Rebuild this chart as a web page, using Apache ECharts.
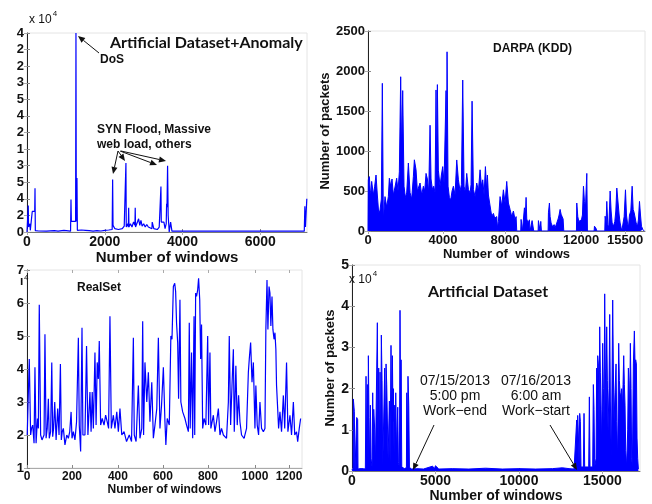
<!DOCTYPE html>
<html><head><meta charset="utf-8">
<script src="https://cdn.jsdelivr.net/npm/echarts@6/dist/echarts.min.js"></script>
<style>html,body{margin:0;padding:0;background:#fff}#c{width:652px;height:504px}</style>
</head><body><div id="c"></div>
<script>
// ---------- Panel 1: Artificial Dataset + Anomaly (y in tick units) ----------
const anomWin = [0,8,28,33,40,70,77,85,130,135,198,206,214,300,500,700,800,950,1000,1120,1131,1140,1250,1259,1268,1277,1285,1295,1400,1500,1600,1700,1800,1900,2000,2100,2190,2202,2212,2260,2300,2350,2400,2450,2500,2535,2544,2552,2590,2606,2614,2622,2660,2700,2740,2775,2783,2791,2840,2870,2900,2930,2960,3000,3040,3080,3120,3160,3212,3220,3260,3300,3350,3400,3435,3444,3453,3521,3550,3580,3590,3600,3615,3630,3645,3657,3693,3727,4000,5000,6000,7000,7130,7145,7160,7185,7195];
const anomVal = [0,0.05,0.1,1.6,0.3,0.3,0.5,0.1,0.1,1.24,1.24,2.64,0.08,0.06,0.05,0.08,0.05,0.1,0.05,0.05,1.96,0.64,0.64,12,0.64,0.64,3.26,0.1,0.12,0.1,0.08,0.05,0.08,0.06,0.1,0.12,0.15,3.16,0.4,0.2,0.3,0.15,0.25,0.2,0.35,0.3,4.16,0.3,0.5,0.3,1.46,0.3,0.5,0.3,0.6,0.4,1.46,0.3,0.6,0.8,0.4,0.7,0.35,0.5,0.3,0.45,0.3,0.2,0.2,0.6,0.2,0.3,0.15,0.3,0.3,2.74,0.6,0.6,0.2,0.5,1.7,1.5,4.0,1.0,1.0,0.0,0.6,0.05,0.05,0.05,0.06,0.05,0.05,1.55,0.3,0.3,2.0];
const anomYLabels = ["0","2","4","5","3","1","2","4","5","3","2","2","4"];
const anomXTicks = [0,2000,4000,6000];
const anomXLabels = ["0","2000","4000","6000"];

// ---------- Panel 2: DARPA (KDD) ----------
const darpaWin = [0,21,82,164,225,328,410,492,573,655,737,819,880,942,1044,1147,1249,1310,1392,1474,1556,1658,1760,1842,1924,2006,2068,2129,2211,2293,2375,2477,2580,2682,2784,2846,2948,3030,3112,3194,3296,3398,3480,3562,3644,3726,3808,3869,3951,4033,4115,4176,4217,4258,4319,4422,4504,4586,4668,4729,4790,4821,4852,4913,4995,5077,5159,5241,5343,5446,5548,5650,5732,5814,5896,5978,6059,6162,6264,6325,6387,6469,6571,6673,6776,6878,6960,7042,7124,7206,7287,7328,7390,7451,7533,7594,7697,7779,7840,7902,7943,8004,
8105,8207,8310,8412,8514,8617,8719,8821,8924,9026,9088,9129,9374,9395,9456,9477,9579,9599,9661,9702,9743,9824,9906,9947,10050,10070,10152,10172,10439,10459,10520,10561,10602,10643,11053,11073,11135,11176,11237,11298,11339,11421,11483,11585,11667,11728,11790,11851,11912,11974,12015,12793,12813,12875,12936,13018,13100,13161,13223,13284,13346,13428,13468,13878,13898,14000,14041,14532,14553,14614,14655,14717,14778,14860,14921,14983,15065,15147,15208,15270,15352,15413,15474,15536,15577,15679,15720,15802,15863,15925,15986,16048,16129,16211,16273,16334,16395,16457,16539,16600,16662,16723,16784,16866,16948];
const darpaPackets = [0,640,680,420,620,450,560,700,450,230,260,400,1846,145,430,300,430,660,560,650,450,550,660,500,740,1928,937,1755,560,420,475,850,480,400,680,890,765,500,475,600,450,560,500,720,650,480,1322,650,520,560,480,1763,600,1830,760,560,700,805,600,620,1755,700,2240,560,420,390,500,560,450,888,640,500,580,1887,560,480,720,520,475,580,1623,520,430,600,500,765,560,640,450,805,500,700,450,475,260,185,220,160,145,180,40,120,
430,310,515,350,620,350,270,180,250,140,180,0,0,145,145,0,0,290,200,420,150,100,140,0,0,130,130,0,0,130,155,0,120,0,0,227,350,180,100,120,50,80,40,100,150,200,270,210,180,150,0,0,350,180,120,125,140,200,560,370,300,720,0,0,60,30,0,0,185,100,370,80,40,500,250,100,60,120,250,537,537,200,100,40,0,0,180,515,200,100,50,200,250,560,270,230,250,100,60,150,370,200,60,20,0];
const darpaXTicks = [0,4605,8412,13078,15780];
const darpaXLabels = ["0","4000","8000","12000","15500"];

// ---------- Panel 3: RealSet ----------
const realWin = [1,10,16,20,25,31,35,40,46,50,54,60,66,75,79,84,89,94,98,104,109,113,117,122,128,135,141,147,151,155,160,167,175,182,188,194,198,204,211,218,226,230,236,242,246,255,262,268,277,282,287,292,299,304,309,314,318,324,331,339,346,353,359,365,371,380,387,395,402,409,417,427,438,450,460,468,472,480,490,497,505,509,513,519,527,534,541,549,556,563,571,578,585,592,600,607,611,617,626,633,638,644,650,654,658,663,667,673,677,685,695,702,710,714,718,724,729,735,738,742,746,751,755,760,764,768,773,779,787,795,799,805,809,820,827,834,842,849,856,864,878,886,890,896,902,908,912,919,925,931,937,944,955,966,974,978,984,990,996,1003,1007,1013,1019,1025,1032,1040,1047,1051,1056,1060,1065,1069,1073,1078,1082,1087,1091,1095,1098,1103,1107,1113,1120,1128,1134,1142,1148,1157,1164,1172,1178,1186,1191,1198,1204];
const realVal = [2.0,4.3,2.0,2.2,2.3,1.75,4.05,1.75,2.5,2.2,5.95,2.0,1.85,2.0,5.05,1.9,2.2,3.1,1.9,2.1,4.2,1.95,2.2,3.0,1.85,2.8,2.0,4.15,1.85,2.1,2.2,1.7,2.0,1.9,2.1,2.7,1.9,2.1,1.85,2.4,4.95,2.3,1.5,5.25,2.0,2.0,4.7,2.0,3.3,2.1,3.3,2.2,4.5,2.3,4.2,3.7,4.85,2.3,2.5,2.3,2.6,2.4,2.2,5.6,2.2,2.6,2.2,2.7,2.1,2.8,2.0,2.1,1.8,2.0,1.8,4.95,2.0,1.8,3.5,1.9,2.2,5.45,2.0,4.2,3.0,3.9,2.4,3.6,1.9,2.3,2.8,4.95,2.2,2.9,4.05,2.4,1.7,2.5,2.3,5.0,4.9,6.5,6.6,6.35,5.4,4.8,3.1,6.1,3.0,2.7,2.5,2.3,2.1,5.4,2.2,4.5,1.9,5.6,2.0,6.3,6.2,6.4,6.75,6.1,4.3,5.35,2.2,2.5,2.3,5.0,2.3,4.5,2.2,2.6,2.1,2.4,2.8,2.0,2.2,2.0,1.9,3.0,5.0,2.3,3.5,4.6,2.1,4.1,2.3,3.2,2.4,2.0,1.9,2.2,3.9,4.3,4.8,3.6,4.2,2.2,3.5,2.3,2.0,3.0,2.2,2.1,2.2,5.2,6.7,5.2,6.5,6.3,5.3,6.2,5.2,4.9,5.1,4.6,3.5,2.8,2.2,2.7,2.1,3.2,2.2,4.2,2.1,2.6,2.0,3.0,2.0,2.1,1.8,2.2,2.5];
const realXTicks = [0,198,400,598,796,1003,1153];
const realXLabels = ["0","200","400","600","800","1000","1200"];

// ---------- Panel 4: Artificial Dataset (x 10^4 packets) ----------
const artWin = [0,60,80,140,180,260,280,340,360,480,580,680,800,840,880,920,960,980,1020,1060,1100,1140,1200,1240,1280,1300,1360,1400,1480,1518,1560,1600,1640,1680,1720,1757,1800,1840,1920,1960,2000,2040,2080,2120,2160,2240,2280,2336,2380,2420,2460,2480,2520,2560,2600,2620,2660,2740,2780,2840,2875,2920,2940,2980,3180,3260,3280,3320,3354,3400,3440,3520,3880,4280,4830,4930,5000,5200,6000,7000,8000,9000,10000,11000,12000,12600,13000,13300,
13418,13458,13498,13518,13558,13598,13638,13678,13718,13857,13897,13937,14177,14217,14257,14416,14456,14496,14536,14616,14656,14696,14716,14756,14796,14836,14876,14916,14956,15015,15055,15095,15135,15175,15215,15255,15295,15335,15395,15435,15475,15535,15615,15655,15695,15755,15815,15855,15914,15974,16014,16054,16094,16154,16194,16234,16274,16314,16354,16394,16453,16513,16553,16593,16633,16673,16713,16753,16793,16853,16913,16953,16993,17033,17073,17113,17153];
const artPackets = [0.05,0,1.75,1.45,0,0,1.3,1.25,0.05,0.06,0.08,0.06,0.05,2.3,0.3,2.1,0.2,2.8,1.3,0.1,1.6,0.3,0.1,1.9,0.4,1.5,1.0,0.1,0.1,3.6,0.8,2.5,0.5,2.4,0.3,3.3,2.2,0.1,0.1,2.5,0.6,2.6,2.1,2.1,0.3,1.7,0.2,3.05,1.0,2.8,1.2,2.0,0.4,1.6,0.3,1.9,0.5,1.55,0.2,0.1,3.9,1.0,2.7,0.1,0.05,0.1,1.9,0.5,2.3,1.6,0.1,0.05,0.06,0.05,0.12,0.05,0.13,0.05,0.06,0.05,0.07,0.05,0.06,0.05,0.06,0.08,0.06,0.05,
0.05,1.24,0.3,1.35,0.9,0.2,1.4,1.2,0.1,0.1,1.4,0.1,0.1,1.8,0.1,0.1,2.1,1.5,0.1,0.3,2.5,1.2,2.8,2.6,1.0,3.5,2.4,1.5,0.6,3.1,2.0,1.2,4.3,2.5,1.6,3.5,2.2,1.0,2.0,3.8,1.7,0.2,4.15,2.5,1.2,1.9,2.6,1.2,0.3,3.1,2.2,1.9,1.8,2.0,1.5,2.1,2.8,2.1,1.6,0.5,0.1,1.0,2.5,2.2,1.4,3.1,2.0,0.3,0.1,2.6,3.4,2.6,2.7,2.6,0.8,0.3,0.05];
const artXTicks = [0,5000,10000,15000];
const artXLabels = ["0","5000","10000","15000"];

const zip = (a, b) => a.map((x, i) => [x, b[i]]);
const FONT = 'Liberation Sans';
const BLUE = '#0000ff';

function xAx(g, max, ticks, labels, fs, name, nfs, ngap, lineColor) {
  return {
    type: 'value', gridIndex: g, min: 0, max: max, position: 'bottom',
    axisLine: { show: true, onZero: false, lineStyle: { color: lineColor, width: 1 } },
    axisTick: { show: true, inside: true, length: 3, customValues: ticks, lineStyle: { color: '#888' } },
    axisLabel: { customValues: ticks, formatter: v => labels[ticks.indexOf(v)], fontFamily: FONT, fontWeight: 'bold', fontSize: fs, color: '#111', margin: 3 },
    splitLine: { show: false },
    name: name, nameLocation: 'middle', nameGap: ngap,
    nameTextStyle: { fontFamily: FONT, fontWeight: 'bold', fontSize: nfs, color: '#111' }
  };
}
function xTop(g, max, ticks) {
  return { type: 'value', gridIndex: g, min: 0, max: max, position: 'top',
    axisLine: { show: false }, axisLabel: { show: false }, splitLine: { show: false },
    axisTick: { show: true, inside: true, length: 3, customValues: ticks, lineStyle: { color: '#aaa' } } };
}
function yAx(g, min, max, interval, fmt, fs, name, nfs, ngap) {
  return {
    type: 'value', gridIndex: g, min: min, max: max, interval: interval,
    axisLine: { show: true, onZero: false, lineStyle: { color: '#222', width: 1 } },
    axisTick: { show: true, inside: true, length: 3, lineStyle: { color: '#888' } },
    axisLabel: { formatter: fmt, fontFamily: FONT, fontWeight: 'bold', fontSize: fs, color: '#111', margin: 3 },
    splitLine: { show: false },
    name: name || '', nameLocation: 'middle', nameGap: ngap || 0, nameRotate: 90,
    nameTextStyle: { fontFamily: FONT, fontWeight: 'bold', fontSize: nfs || 12, color: '#111' }
  };
}
function yRight(g, min, max, interval) {
  return { type: 'value', gridIndex: g, min: min, max: max, interval: interval, position: 'right',
    axisLine: { show: false }, axisLabel: { show: false }, splitLine: { show: false },
    axisTick: { show: true, inside: true, length: 3, lineStyle: { color: '#aaa' } } };
}

function arrow(x1, y1, x2, y2) {
  const a = Math.atan2(y2 - y1, x2 - x1), L = 7, W = 3;
  const bx = x2 - L * Math.cos(a), by = y2 - L * Math.sin(a);
  const px = -Math.sin(a) * W, py = Math.cos(a) * W;
  return [
    { type: 'line', shape: { x1: x1, y1: y1, x2: bx, y2: by }, style: { stroke: '#111', lineWidth: 1 }, z: 100 },
    { type: 'polygon', shape: { points: [[x2, y2], [bx + px, by + py], [bx - px, by - py]] }, style: { fill: '#111' }, z: 100 }
  ];
}
function txt(x, y, s, size, opts) {
  return Object.assign({ type: 'text', x: x, y: y, z: 100,
    style: Object.assign({ text: s, fontFamily: FONT, fontWeight: 'bold', fontSize: size, fill: '#111', align: 'left', verticalAlign: 'middle' }, opts || {}) });
}
function pow4(x, y) {
  return { type: 'text', x: x, y: y, z: 100, style: { text: '{b|x 10}{s|4}', fill: '#111', verticalAlign: 'middle',
    rich: { b: { fontFamily: FONT, fontSize: 12, fill: '#111', verticalAlign: 'bottom' }, s: { fontFamily: FONT, fontSize: 8, fill: '#111', verticalAlign: 'top', padding: [0, 0, 8, 1] } } } };
}

const graphics = [
  pow4(29, 18),
  txt(110, 43, 'Artificial Dataset+Anomaly', 16, { fontFamily: 'Lato' }),
  txt(100, 60, 'DoS', 12),
  ...arrow(99, 53, 78, 36),
  txt(97, 130, 'SYN Flood, Massive', 12),
  txt(97, 145, 'web load, others', 12),
  ...arrow(118, 151, 113, 174),
  ...arrow(118, 151, 125, 161),
  ...arrow(120, 151, 157, 165),
  ...arrow(121, 151, 166, 161),
  txt(493, 49, 'DARPA (KDD)', 12),
  txt(77, 288, 'RealSet', 12),
  txt(20, 282, 'ı', 12),
  txt(24, 278, '4', 8, { fontWeight: 'normal' }),
  pow4(349, 278),
  txt(428, 292, 'Artificial Dataset', 16, { fontFamily: 'Lato' }),
  txt(455, 381, '07/15/2013', 14, { align: 'center', fontWeight: 'normal' }),
  txt(455, 396, '5:00 pm', 14, { align: 'center', fontWeight: 'normal' }),
  txt(455, 411, 'Work\u2212end', 14, { align: 'center', fontWeight: 'normal' }),
  txt(536, 381, '07/16/2013', 14, { align: 'center', fontWeight: 'normal' }),
  txt(536, 396, '6:00 am', 14, { align: 'center', fontWeight: 'normal' }),
  txt(536, 411, 'Work\u2212start', 14, { align: 'center', fontWeight: 'normal' }),
  ...arrow(434, 425, 413, 470),
  ...arrow(550, 425, 577, 470)
];

const gridBase = { show: true, borderColor: '#e4e4e4', borderWidth: 1, backgroundColor: 'transparent', containLabel: false };
const option = {
  animation: false,
  backgroundColor: '#fff',
  grid: [
    Object.assign({ left: 27, top: 33, width: 280, height: 199 }, gridBase),
    Object.assign({ left: 368, top: 31, width: 277, height: 200 }, gridBase),
    Object.assign({ left: 27, top: 270, width: 275, height: 198 }, gridBase),
    Object.assign({ left: 352, top: 265, width: 288, height: 210 }, gridBase)
  ],
  xAxis: [
    xAx(0, 7200, anomXTicks, anomXLabels, 14, 'Number of windows', 15, 12, '#777'),
    xAx(1, 17000, darpaXTicks, darpaXLabels, 13, 'Number of  windows', 13, 16, '#777'),
    xAx(2, 1210, realXTicks, realXLabels, 12, 'Number of windows', 12, 14, '#aaa'),
    xAx(3, 17250, artXTicks, artXLabels, 14, 'Number of windows', 14, 17, '#777'),
    xTop(0, 7200, anomXTicks), xTop(1, 17000, darpaXTicks), xTop(2, 1210, realXTicks), xTop(3, 17250, artXTicks)
  ],
  yAxis: [
    yAx(0, 0, 12, 1, v => anomYLabels[v], 13),
    yAx(1, 0, 2500, 500, v => String(v), 13, 'Number of packets', 13, 33),
    yAx(2, 1, 7, 1, v => String(v), 13),
    yAx(3, 0, 5, 1, v => String(v), 14, 'Number of packets', 13, 15),
    yRight(0, 0, 12, 1), yRight(1, 0, 2500, 500), yRight(2, 1, 7, 1), yRight(3, 0, 5, 1)
  ],
  series: [
    { type: 'line', xAxisIndex: 0, yAxisIndex: 0, data: zip(anomWin, anomVal), showSymbol: false, lineStyle: { color: BLUE, width: 1.2 }, itemStyle: { color: BLUE } },
    { type: 'line', xAxisIndex: 1, yAxisIndex: 1, data: zip(darpaWin, darpaPackets), showSymbol: false, lineStyle: { color: BLUE, width: 1 }, itemStyle: { color: BLUE }, areaStyle: { color: BLUE, opacity: 1 } },
    { type: 'line', xAxisIndex: 2, yAxisIndex: 2, data: zip(realWin, realVal), showSymbol: false, lineStyle: { color: BLUE, width: 1.2 }, itemStyle: { color: BLUE } },
    { type: 'line', xAxisIndex: 3, yAxisIndex: 3, data: zip(artWin, artPackets), showSymbol: false, lineStyle: { color: BLUE, width: 1 }, itemStyle: { color: BLUE }, areaStyle: { color: BLUE, opacity: 1 } }
  ],
  graphic: graphics
};
const chart = echarts.init(document.getElementById('c'), null, { renderer: 'canvas' });
chart.setOption(option);
</script></body></html>
